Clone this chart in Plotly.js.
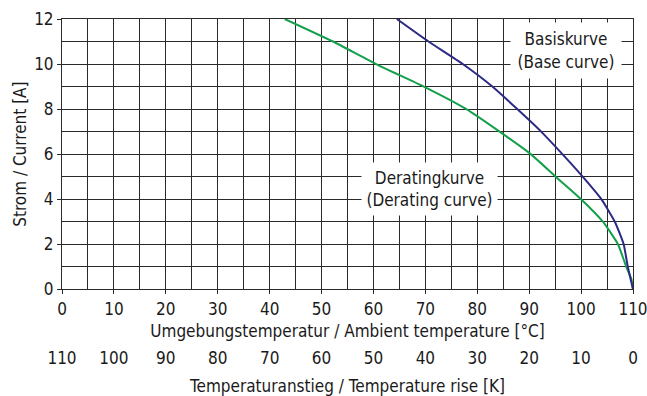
<!DOCTYPE html>
<html>
<head>
<meta charset="utf-8">
<script src="https://cdn.plot.ly/plotly-3.0.1.min.js"></script>
<style>html,body{margin:0;padding:0;background:#fff;}#chart{width:647px;height:396px;}</style>
</head>
<body>
<div id="chart"></div>
<script>
// Base curve (Basiskurve): ambient temperature [°C] vs current [A]
const baseTemp    = [64.5, 70.6, 77.2, 82.9, 87.7, 92.3, 96.4, 100.3, 103.9, 106.5, 108.2, 109.0, 110];
const baseCurrent = [12,   11,   10,   9,    8,    7,    6,    5,     4,     3,     2,     1,     0];
// Derating curve (Deratingkurve)
const deratTemp    = [42.9, 52.2, 60.5, 69.7, 77.9, 84.3, 90.3, 95.1, 100.0, 104.2, 107.1, 108.7, 109.7, 110];
const deratCurrent = [12,   11,   10,   9,    8,    7,    6,    5,    4,     3,     2,     1.0,   0.45,  0];
// Tick labels
const ambientTicks = [0, 10, 20, 30, 40, 50, 60, 70, 80, 90, 100, 110];
const riseTicks    = [110, 100, 90, 80, 70, 60, 50, 40, 30, 20, 10, 0];
const currentTicks = [0, 2, 4, 6, 8, 10, 12];

const FONT = 'DejaVu Sans Condensed, sans-serif';
const FS = 17;
const TXT = '#1a1a1a';
const GRID = '#2a2a2a';

const traces = [
  {x: deratTemp, y: deratCurrent, type: 'scatter', mode: 'lines', line: {color: '#14a04a', width: 2, shape: 'spline', smoothing: 0.5}, hoverinfo: 'none', xaxis: 'x', yaxis: 'y'},
  {x: baseTemp, y: baseCurrent, type: 'scatter', mode: 'lines', line: {color: '#2c2a85', width: 2, shape: 'spline', smoothing: 0.5}, hoverinfo: 'none', xaxis: 'x', yaxis: 'y'},
  {x: [riseTicks[0], riseTicks[riseTicks.length-1]], y: [0, 0], type: 'scatter', mode: 'none', hoverinfo: 'none', xaxis: 'x2', yaxis: 'y', showlegend: false}
];

const layout = {
  width: 647, height: 396,
  margin: {l: 62, r: 14, t: 19, b: 50},
  paper_bgcolor: '#fff', plot_bgcolor: '#fff',
  showlegend: false,
  font: {family: FONT, size: FS, color: TXT},
  xaxis: {
    range: [0, 110], tickvals: ambientTicks, ticktext: ambientTicks.map(String),
    ticks: 'outside', ticklen: 4, tickcolor: GRID, tickwidth: 1, ticklabeloverflow: 'allow',
    showgrid: true, gridcolor: GRID, gridwidth: 1,
    minor: {dtick: 5, showgrid: true, gridcolor: GRID, gridwidth: 1, ticks: ''},
    showline: true, linecolor: GRID, linewidth: 1, mirror: true, zeroline: false,
    title: {text: 'Umgebungstemperatur / Ambient temperature [°C]', standoff: 7, font: {family: FONT, size: FS, color: TXT}},
    tickfont: {family: FONT, size: FS, color: TXT}
  },
  xaxis2: {
    overlaying: 'x', anchor: 'free', position: 0, side: 'bottom',
    range: [110, 0], tickvals: riseTicks, ticktext: riseTicks.map(String), ticklabeloverflow: 'allow',
    showgrid: false, zeroline: false, showline: false, ticks: '',
    title: {text: 'Temperaturanstieg / Temperature rise [K]', standoff: 14, font: {family: FONT, size: FS, color: TXT}},
    tickfont: {family: FONT, size: FS, color: TXT}
  },
  yaxis: {
    domain: [0.1734, 1],
    range: [0, 12], tickvals: currentTicks, ticktext: currentTicks.map(String),
    ticks: 'outside', ticklen: 4, tickcolor: GRID, tickwidth: 1,
    showgrid: true, gridcolor: GRID, gridwidth: 1,
    minor: {dtick: 1, showgrid: true, gridcolor: GRID, gridwidth: 1, ticks: ''},
    showline: true, linecolor: GRID, linewidth: 1, mirror: true, zeroline: false,
    title: {text: 'Strom / Current [A]', standoff: 3, font: {family: FONT, size: FS, color: TXT}},
    tickfont: {family: FONT, size: FS, color: TXT}
  },
  annotations: [
    {x: 97.1, y: 10.6, xref: 'x', yref: 'y', text: 'Basiskurve<br>(Base curve)', showarrow: false,
     bgcolor: '#fff', width: 110, height: 55, borderpad: 0, font: {family: FONT, size: FS, color: TXT}},
    {x: 70.7, y: 4.46, xref: 'x', yref: 'y', text: 'Deratingkurve<br>(Derating curve)', showarrow: false,
     bgcolor: '#fff', width: 135, height: 52, borderpad: 0, font: {family: FONT, size: FS, color: TXT}}
  ]
};

Plotly.newPlot('chart', traces, layout, {displayModeBar: false, staticPlot: true});
</script>
</body>
</html>
